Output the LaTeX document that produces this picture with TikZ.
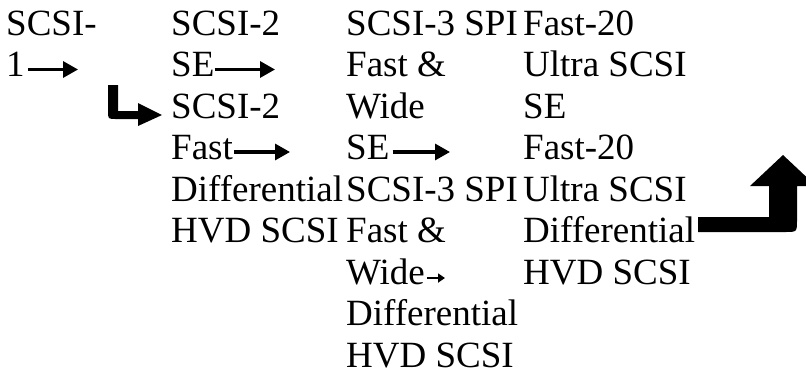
\documentclass[tikz,border=0pt]{standalone}
\usepackage{fontspec}
\setmainfont{Liberation Serif}
\usetikzlibrary{arrows.meta}
\begin{document}
\begin{tikzpicture}[x=1pt,y=-1pt,
  lbl/.style={anchor=base west,inner sep=0pt,font=\fontsize{37}{40}\selectfont},
  flow/.style={line width=3.2pt,-{Triangle[length=15pt,width=16pt]}},
  smallflow/.style={line width=2.8pt,-{Triangle[length=7pt,width=9pt]}},
  bigshape/.style={fill=black}]
\useasboundingbox (0,0) rectangle (806,376);
% column 1
\node[lbl] (a1) at (6,35) {SCSI-};
\node[lbl] (a2) at (6,76.5) {1};
% column 2
\node[lbl] (b1) at (171,35) {SCSI-2};
\node[lbl] (b2) at (171,76.5) {SE};
\node[lbl] (b3) at (171,118) {SCSI-2};
\node[lbl] (b4) at (171,159.5) {Fast};
\node[lbl] (b5) at (171,201) {Differential};
\node[lbl] (b6) at (171,242.5) {HVD SCSI};
% column 3
\node[lbl] (c1) at (346,35) {SCSI-3 SPI};
\node[lbl] (c2) at (346,76.5) {Fast \&};
\node[lbl] (c3) at (346,118) {Wide};
\node[lbl] (c4) at (346,159.5) {SE};
\node[lbl] (c5) at (346,201) {SCSI-3 SPI};
\node[lbl] (c6) at (346,242.5) {Fast \&};
\node[lbl] (c7) at (346,284) {Wide};
\node[lbl] (c8) at (346,325.5) {Differential};
\node[lbl] (c9) at (346,367) {HVD SCSI};
% column 4
\node[lbl] (d1) at (523,35) {Fast-20};
\node[lbl] (d2) at (523,76.5) {Ultra SCSI};
\node[lbl] (d3) at (523,118) {SE};
\node[lbl] (d4) at (523,159.5) {Fast-20};
\node[lbl] (d5) at (523,201) {Ultra SCSI};
\node[lbl] (d6) at (523,242.5) {Differential};
\node[lbl] (d7) at (523,284) {HVD SCSI};
% arrow end points
\coordinate (ta2) at (78,69.5);
\coordinate (tb2) at (275,69.5);
\coordinate (tb4) at (290,152);
\coordinate (tc4) at (450,152);
\coordinate (tc7) at (445,278);
% inline arrows
\draw[flow] ([xshift=3pt,yshift=7pt]a2.base east) -- (ta2);
\draw[flow] ([xshift=0pt,yshift=7pt]b2.base east) -- (tb2);
\draw[flow] ([xshift=1pt,yshift=7.5pt]b4.base east) -- (tb4);
\draw[flow] ([xshift=3pt,yshift=7.5pt]c4.base east) -- (tc4);
\draw[smallflow] ([xshift=2pt,yshift=6pt]c7.base east) -- (tc7);
% bent arrow near column 2
\fill[bigshape] (108,85) -- (118,85) -- (118,111) -- (138,111) -- (138,103)
  -- (162,115) -- (138,126) -- (138,119) -- (116,119)
  .. controls (108,119) .. (108,111) -- cycle;
% big bent arrow at right
\begin{scope}
\clip (0,0) rectangle (806,376);
\fill[bigshape] (698,217) -- (769,217) -- (769,186) -- (750,186) -- (783,155)
  -- (816,186) -- (797,186) -- (797,220)
  .. controls (797,232) .. (785,232) -- (698,232) -- cycle;
\end{scope}
\end{tikzpicture}
\end{document}
